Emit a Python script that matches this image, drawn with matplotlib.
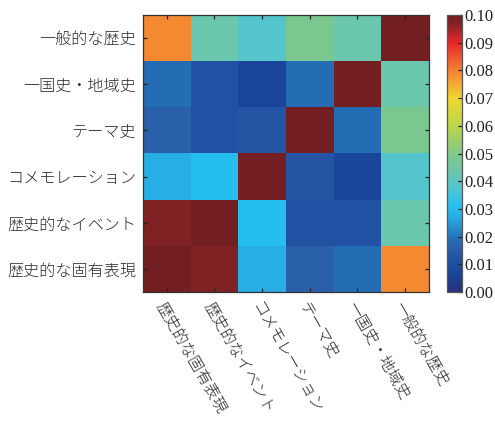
import numpy as np
import matplotlib
matplotlib.use("Agg")
import matplotlib.pyplot as plt
from matplotlib.colors import LinearSegmentedColormap, Normalize

# Topic labels (rows top-to-bottom; columns run in reverse order)
row_labels = ["一般的な歴史", "一国史・地域史", "テーマ史", "コメモレーション",
              "歴史的なイベント", "歴史的な固有表現"]
col_labels = row_labels[::-1]

# Pairwise scores, rows follow row_labels, columns follow col_labels
row_general = [0.079, 0.043, 0.038, 0.049, 0.043, 0.100]
row_national = [0.019, 0.012, 0.007, 0.019, 0.100, 0.043]
row_theme = [0.016, 0.012, 0.013, 0.100, 0.019, 0.049]
row_commem = [0.027, 0.031, 0.100, 0.013, 0.007, 0.038]
row_event = [0.097, 0.100, 0.031, 0.012, 0.012, 0.043]
row_entity = [0.100, 0.097, 0.027, 0.016, 0.019, 0.079]

values = np.array([row_general, row_national, row_theme,
                   row_commem, row_event, row_entity])

vmin, vmax = 0.0, 0.10
cbar_ticks = [0.00, 0.01, 0.02, 0.03, 0.04, 0.05, 0.06, 0.07, 0.08, 0.09, 0.10]

# Soft jet-like palette
anchors = [
    (0.000, "#29307c"),
    (0.007, "#19479b"),
    (0.012, "#2252a3"),
    (0.016, "#2b60ab"),
    (0.019, "#246db5"),
    (0.027, "#28aee4"),
    (0.031, "#25c0ef"),
    (0.038, "#55c5cd"),
    (0.043, "#6ac7ae"),
    (0.049, "#7cc890"),
    (0.060, "#bcd64a"),
    (0.070, "#f0d632"),
    (0.079, "#f58a32"),
    (0.090, "#e8282a"),
    (0.097, "#812225"),
    (0.100, "#731f22"),
]
cmap = LinearSegmentedColormap.from_list(
    "softjet", [((v - vmin) / (vmax - vmin), c) for v, c in anchors], N=512)

cjk = ["Noto Sans CJK JP", "DejaVu Sans"]
serif = ["Liberation Serif", "DejaVu Serif"]

W, H = 495, 421
fig = plt.figure(figsize=(W / 100, H / 100), dpi=100)
ax = fig.add_axes([143 / W, 1 - 292 / H, 286 / W, 277 / H])
cax = fig.add_axes([447 / W, 1 - 292 / H, 15 / W, 277 / H])

norm = Normalize(vmin=vmin, vmax=vmax)
im = ax.imshow(values, cmap=cmap, norm=norm, aspect="auto",
               interpolation="nearest")

ax.set_xticks(range(len(col_labels)))
ax.set_yticks(range(len(row_labels)))
ax.set_yticklabels(row_labels, fontfamily=cjk, fontsize=11.6, color="#2a2a2a",
                   fontweight="light")
ax.set_xticklabels(col_labels, fontfamily=cjk, fontsize=11.3, color="#2a2a2a",
                   fontweight="light",
                   rotation=-60, ha="left", va="top", rotation_mode="anchor")
ax.tick_params(axis="both", direction="in", length=3, width=0.9,
               color="#222222", top=True, right=True, pad=5)
ax.tick_params(axis="x", pad=5)
for s in ax.spines.values():
    s.set_color("#333333")
    s.set_linewidth(0.9)

cb = fig.colorbar(im, cax=cax, ticks=cbar_ticks)
cb.ax.set_yticklabels([f"{t:.2f}" for t in cbar_ticks],
                      fontfamily=serif, fontsize=12, color="#222222")
cb.ax.tick_params(direction="in", length=3, width=0.9, color="#222222", pad=2)
cb.outline.set_edgecolor("#555555")
cb.outline.set_linewidth(0.9)

fig.savefig("out.png", dpi=100)
